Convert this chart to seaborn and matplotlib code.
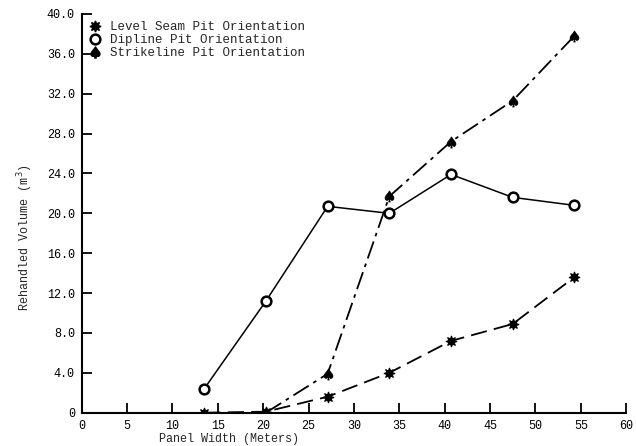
import matplotlib
matplotlib.use("Agg")
import matplotlib.pyplot as plt
import seaborn as sns
import pandas as pd
from matplotlib.lines import Line2D

# ---- data ----
panel_width = [13.5, 20.3, 27.1, 33.9, 40.7, 47.5, 54.3]
level_seam = [0.0, 0.1, 1.6, 4.0, 7.2, 8.9, 13.6]
dipline = [2.4, 11.2, 20.7, 20.0, 23.9, 21.6, 20.8]
strike_width = [20.3, 27.1, 33.9, 40.7, 47.5, 54.3]
strikeline = [0.0, 3.9, 21.7, 27.2, 31.3, 37.8]

series_names = ["Level Seam Pit Orientation", "Dipline Pit Orientation", "Strikeline Pit Orientation"]
x_ticks = list(range(0, 61, 5))
y_ticks = [0, 4, 8, 12, 16, 20, 24, 28, 32, 36, 40]
y_tick_labels = ["0", "4.0", "8.0", "12.0", "16.0", "20.0", "24.0", "28.0", "32.0", "36.0", "40.0"]

sns.set_style("ticks")
plt.rcParams["font.family"] = ["Liberation Mono", "DejaVu Sans Mono"]

fig = plt.figure(figsize=(6.36, 4.46), dpi=100)
ax = fig.add_axes([0.1285, 0.0747, 0.856, 0.894])

df_level = pd.DataFrame({"x": panel_width, "y": level_seam})
df_dip = pd.DataFrame({"x": panel_width, "y": dipline})
df_strike = pd.DataFrame({"x": strike_width, "y": strikeline})

star = (8, 1, 0)
sns.lineplot(data=df_level, x="x", y="y", ax=ax, color="black", lw=1.3,
             marker=star, markersize=8, markeredgecolor="black",
             markerfacecolor="black", label=series_names[0])
ax.lines[-1].set_dashes([9, 4])
sns.lineplot(data=df_dip, x="x", y="y", ax=ax, color="black", lw=1.1,
             marker="o", markersize=7, markeredgewidth=1.8,
             markerfacecolor="white", markeredgecolor="black", label=series_names[1])
sns.lineplot(data=df_strike, x="x", y="y", ax=ax, color="black", lw=1.3,
             marker=r"$\spadesuit$", markersize=8, markeredgewidth=0.5,
             markerfacecolor="black", markeredgecolor="black", label=series_names[2])
ax.lines[-1].set_dashes([10, 3, 2, 3])

ax.set_xlim(0, 60)
ax.set_ylim(0, 40)
ax.set_xticks(x_ticks)
ax.set_xticklabels([str(t) for t in x_ticks], fontsize=8.5)
ax.set_yticks(y_ticks)
ax.set_yticklabels(y_tick_labels, fontsize=8.5)
ax.tick_params(axis="both", direction="in", length=7, width=1.3, colors="black", pad=5)
for s in ["top", "right"]:
    ax.spines[s].set_visible(False)
for s in ["left", "bottom"]:
    ax.spines[s].set_linewidth(1.5)
    ax.spines[s].set_color("black")

ax.set_xlabel("Panel Width (Meters)", fontsize=8.5)
ax.xaxis.set_label_coords(0.27, -0.05)
ax.set_ylabel("Rehandled Volume (m$^3$)", fontsize=8.5)
ax.yaxis.set_label_coords(-0.085, 0.44)

hs = [Line2D([], [], color="black", marker=star, markersize=8, linestyle="none"),
      Line2D([], [], color="black", marker="o", markersize=7, markeredgewidth=1.8,
             markerfacecolor="white", linestyle="none"),
      Line2D([], [], color="black", marker=r"$\spadesuit$", markersize=8, linestyle="none")]
ax.legend(hs, series_names, loc="upper left", bbox_to_anchor=(0.0, 1.0), frameon=False,
          fontsize=9, handlelength=1.0, handletextpad=0.7, labelspacing=0.08,
          borderaxespad=0.2)

fig.savefig("out.png", dpi=100, facecolor="white")
